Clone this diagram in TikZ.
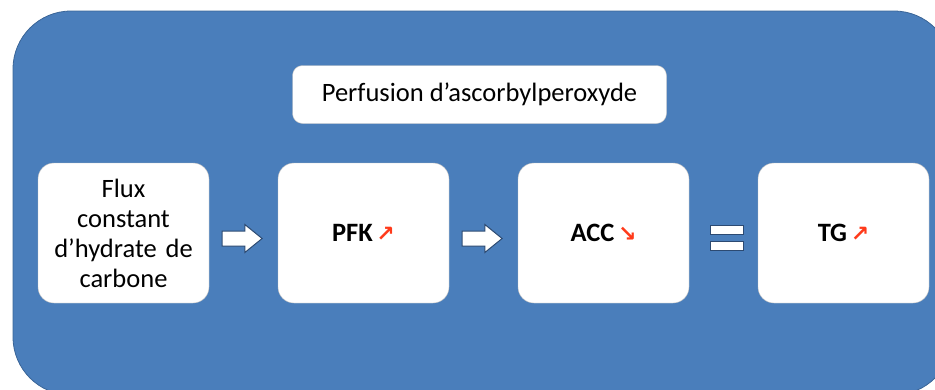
\documentclass[tikz,border=0pt]{standalone}
\usepackage{fontspec}
\setmainfont{Carlito}
\newfontfamily\symfont{DejaVu Sans}
\usetikzlibrary{shapes.arrows}

\definecolor{panelblue}{HTML}{4A7EBB}
\definecolor{paneledge}{HTML}{3A6597}
\definecolor{arrowedge}{HTML}{2C4A72}
\definecolor{upred}{HTML}{FF3A1A}

\newcommand{\up}{{\symfont\bfseries\fontsize{22}{22}\selectfont\color{upred}\,↗}}
\newcommand{\down}{{\symfont\bfseries\fontsize{22}{22}\selectfont\color{upred}\,↘}}

\tikzset{
    stepbox/.style={draw=black!25, fill=white, rounded corners=16pt, minimum width=171pt, minimum height=140pt, inner sep=0pt, font=\fontsize{26.5}{30}\selectfont},
    blockarrow/.style={single arrow, draw=arrowedge, fill=white, line width=1pt, minimum height=40pt, inner xsep=0pt, inner ysep=7pt, single arrow head extend=6.5pt, single arrow tip angle=78},
    bar/.style={draw=arrowedge, fill=white, line width=1pt, minimum width=33pt, minimum height=9pt, inner sep=0pt}
}

\begin{document}
\begin{tikzpicture}[x=1pt, y=-1pt]
    \useasboundingbox (0,0) rectangle (935,389);
    \clip (0,0) rectangle (935,389);

    % blue panel
    \draw[fill=panelblue, draw=paneledge, line width=0.8pt, rounded corners=58pt] (13,11) rectangle (952,395);

    \node[stepbox, rounded corners=10pt, minimum width=374pt, minimum height=58pt] (perf) at (479.5,94.5) {Perfusion d’ascorbylperoxyde};

    \node[stepbox, text width=160pt, align=center] (flux) at (123.5,233) {Flux\\constant\\d’hydrate de\\carbone};
    \node[stepbox] (pfk) at (363.5,233) {\textbf{PFK}\up};
    \node[stepbox] (acc) at (603.5,233) {\textbf{ACC}\down};
    \node[stepbox] (tg) at (843.5,233) {\textbf{TG}\up};

    % arrows between the boxes
    \node[blockarrow] (a1) at (237.5,238.5) {};
    \node[blockarrow] (a2) at (477.5,238.5) {};

    % equals sign
    \node[bar] (eqtop) at (726.5,229.5) {};
    \node[bar] (eqbot) at (726.5,245.5) {};
\end{tikzpicture}
\end{document}
